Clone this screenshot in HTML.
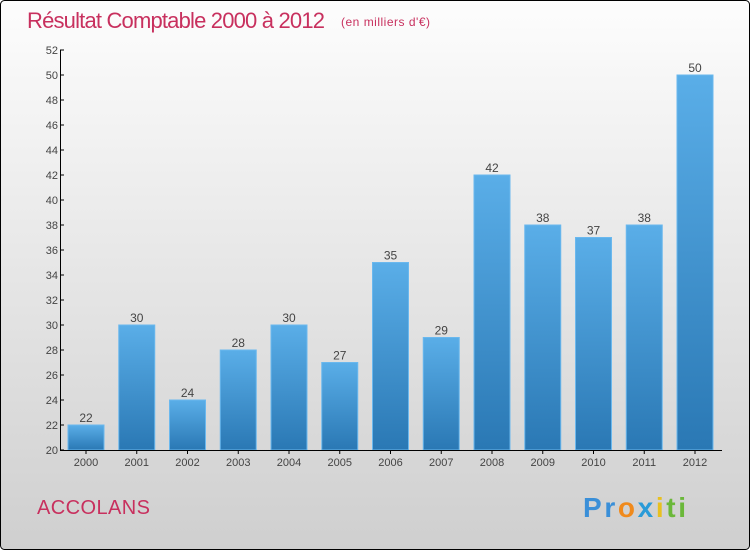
<!DOCTYPE html>
<html><head><meta charset="utf-8"><style>
body{margin:0;width:750px;height:550px;overflow:hidden;font-family:"Liberation Sans",sans-serif}
</style></head><body>
<svg width="750" height="550" xmlns="http://www.w3.org/2000/svg">
<defs>
<linearGradient id="bg" x1="0" y1="0" x2="0" y2="1"><stop offset="0" stop-color="#fdfdfd"/><stop offset="1" stop-color="#cfcfcf"/></linearGradient>
<linearGradient id="bar" x1="0" y1="0" x2="0" y2="1"><stop offset="0" stop-color="#5aaee8"/><stop offset="1" stop-color="#2a78b4"/></linearGradient>
</defs>
<rect x="0.5" y="0.5" width="749" height="549" rx="4" fill="url(#bg)" stroke="#000"/>
<text x="27" y="28" font-size="22" fill="#c8305e" textLength="298">Résultat Comptable 2000 à 2012</text>
<text x="341" y="26" font-size="12" fill="#c8305e" textLength="89">(en milliers d'€)</text>
<g id="plot"></g>
<text x="37" y="514" font-size="20" fill="#c8305e" textLength="113">ACCOLANS</text>
<text x="583" y="517" font-size="28" font-weight="bold" textLength="103"><tspan fill="#3a8fd8">Pr</tspan><tspan fill="#f08a1c">o</tspan><tspan fill="#2a9bd8">x</tspan><tspan fill="#e8c020">i</tspan><tspan fill="#6bb83a">ti</tspan></text>
</svg>
<script>
const categories=["2000","2001","2002","2003","2004","2005","2006","2007","2008","2009","2010","2011","2012"];
const values=[22,30,24,28,30,27,35,29,42,38,37,38,50];
const yTicks=[20,22,24,26,28,30,32,34,36,38,40,42,44,46,48,50,52];
const ns="http://www.w3.org/2000/svg";
const g=document.getElementById("plot");
const y=v=>450-(v-20)*12.5;
const x=i=>86+i*50.75;
function mk(t,a){const e=document.createElementNS(ns,t);for(const k in a)e.setAttribute(k,a[k]);g.appendChild(e);return e;}
values.forEach((v,i)=>{
 const r=mk("rect",{x:x(i)-18,y:y(v),width:36,height:450-y(v),fill:"url(#bar)",stroke:"#6ab8ee","stroke-width":1});
 
 
 const t=mk("text",{x:x(i),y:y(v)-3,"font-size":12,fill:"#444","text-anchor":"middle"});t.textContent=v;
 
 
 const c=mk("text",{x:x(i),y:466,"font-size":11,fill:"#444","text-anchor":"middle"});c.textContent=categories[i];
 
 
});
yTicks.forEach(v=>{
 mk("line",{x1:60,x2:64,y1:y(v),y2:y(v),stroke:"#000"});
 const t=mk("text",{x:58,y:y(v)+4,"font-size":11,fill:"#444","text-anchor":"end"});t.textContent=v;
 
 
});
const ya=mk("line",{x1:60.5,x2:60.5,y1:50,y2:450,stroke:"#000"});


const xa=mk("line",{x1:60,x2:722,y1:450.5,y2:450.5,stroke:"#000"});


categories.forEach((c,i)=>mk("line",{x1:x(i),x2:x(i),y1:450,y2:454,stroke:"#000"}));
</script>
</body></html>
